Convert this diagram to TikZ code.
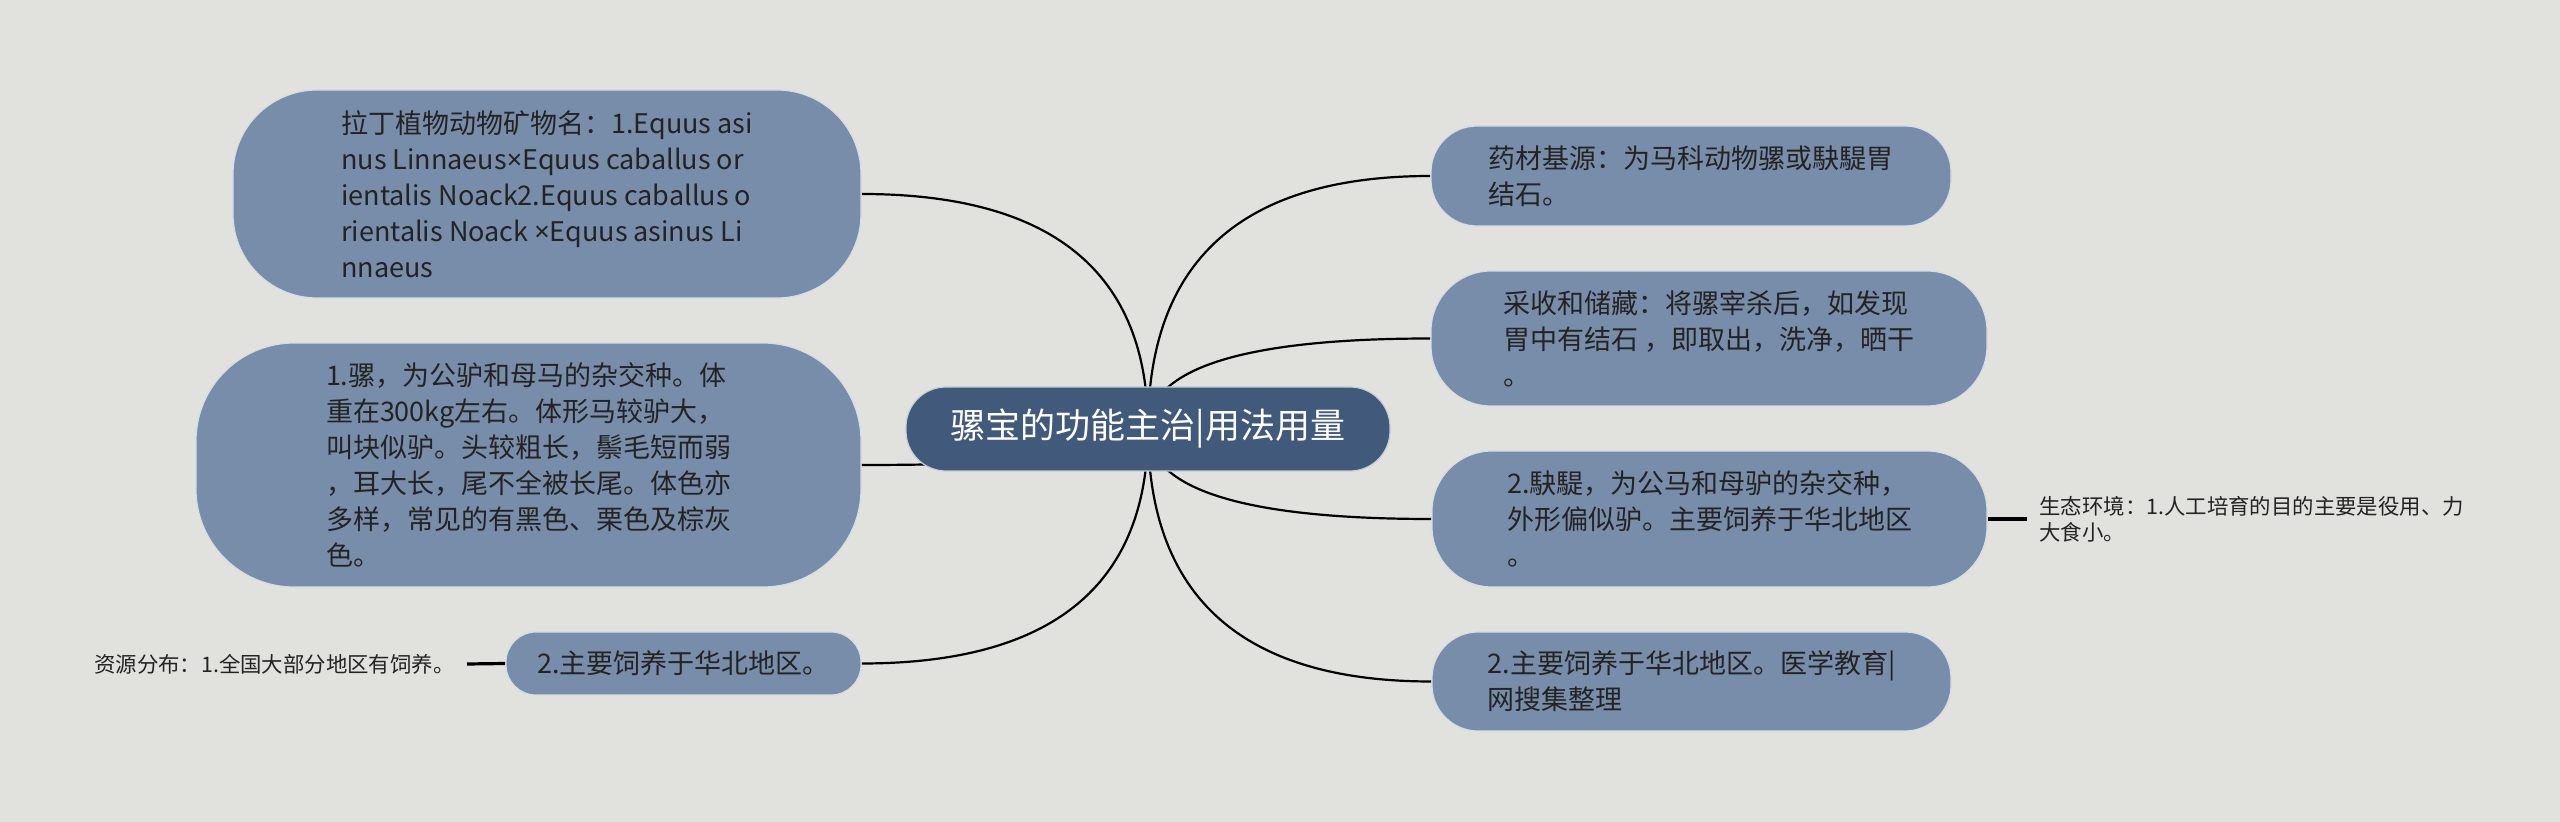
\documentclass[tikz,border=0pt]{standalone}
\usepackage{fontspec}
\setmainfont{Noto Sans CJK SC}
\newfontfamily\latinfont{Noto Sans}
\usepackage{tikz}
\usetikzlibrary{calc}
\pgfdeclarelayer{background}
\pgfsetlayers{background,main}

\definecolor{paper}{HTML}{E1E2DD}
\definecolor{branchblue}{HTML}{788DAA}
\definecolor{topicblue}{HTML}{415A7B}
\definecolor{inkgray}{HTML}{232323}

\newcommand{\crossmark}{{\latinfont ×}}

\tikzset{
  topicbox/.style={rectangle, rounded corners=20pt, fill=topicblue, draw=white!70!topicblue, line width=0.6pt, text=white, inner sep=0pt, font=\fontsize{17.5pt}{21pt}\selectfont},
  branchbox/.style={rectangle, fill=branchblue, draw=white!70!branchblue, line width=0.6pt, text=inkgray, inner sep=0pt, align=left, font=\fontsize{13.5pt}{18pt}\selectfont},
  leaftext/.style={text=inkgray, inner ysep=0pt, inner xsep=6pt, align=left, font=\fontsize{10.7pt}{13pt}\selectfont},
  link/.style={draw=black, line width=1.1pt, to path={.. controls ($(\tikztostart)!2/3!(\tikztostart |- \tikztotarget)$) and ($(\tikztotarget)!2/3!(\tikztostart |- \tikztotarget)$) .. (\tikztotarget)}},
  leaflink/.style={draw=black, line width=1.6pt}
}

\begin{document}
\begin{tikzpicture}[x=0.5pt, y=0.5pt]
\useasboundingbox (0,0) rectangle (2560,-822);

%%background Layer
\begin{pgfonlayer}{background}
\fill[paper] (0,0) rectangle (2560,-822);
\end{pgfonlayer}

%%Topic
\node[topicbox, minimum width=242pt, minimum height=42pt] (topic) at (1148,-429) {骡宝的功能主治|用法用量};

%%Left branches
\node[branchbox, rounded corners=42pt, minimum width=314pt, minimum height=104pt] (latin) at (547,-194) {拉丁植物动物矿物名：1.Equus asi\\
nus Linnaeus\crossmark Equus caballus or\\
ientalis Noack2.Equus caballus o\\
rientalis Noack \crossmark Equus asinus Li\\
nnaeus};
\node[branchbox, rounded corners=49pt, minimum width=332.5pt, minimum height=122pt] (mule) at (528.5,-465) {1.骡，为公驴和母马的杂交种。体\\
重在300kg左右。体形马较驴大，\\
叫块似驴。头较粗长，鬃毛短而弱\\
，耳大长，尾不全被长尾。体色亦\\
多样，常见的有黑色、栗色及棕灰\\
色。};
\node[branchbox, rounded corners=15pt, minimum width=177.5pt, minimum height=31.5pt] (north) at (683.5,-663.5) {2.主要饲养于华北地区。};

%%Right branches
\node[branchbox, rounded corners=23pt, minimum width=260pt, minimum height=50pt] (source) at (1691,-176) {药材基源：为马科动物骡或駃騠胃\\
结石。};
\node[branchbox, rounded corners=30pt, minimum width=278pt, minimum height=67.5pt] (harvest) at (1709,-338.5) {采收和储藏：将骡宰杀后，如发现\\
胃中有结石 ，即取出，洗净，晒干\\
。};
\node[branchbox, rounded corners=30pt, minimum width=277.5pt, minimum height=68pt] (hinny) at (1709.5,-519) {2.駃騠，为公马和母驴的杂交种，\\
外形偏似驴。主要饲养于华北地区\\
。};
\node[branchbox, rounded corners=23pt, minimum width=259.5pt, minimum height=49.5pt] (note) at (1691.5,-681.5) {2.主要饲养于华北地区。医学教育|\\
网搜集整理};

%%Leaves
\node[leaftext, anchor=east] (spread) at (467,-664) {资源分布：1.全国大部分地区有饲养。};
\node[leaftext, anchor=west] (habitat) at (2027,-519) {生态环境：1.人工培育的目的主要是役用、力\\
大食小。};

%%Connectors
\begin{pgfonlayer}{background}
\draw[link] (topic.center) to (latin.east);
\draw[link] (topic.center) to (mule.east);
\draw[link] (topic.center) to (north.east);
\draw[link] (topic.center) to (source.west);
\draw[link] (topic.center) to (harvest.west);
\draw[link] (topic.center) to (hinny.west);
\draw[link] (topic.center) to (note.west);
\draw[leaflink] (north.west) -- (spread.east);
\draw[leaflink] (hinny.east) -- (habitat.west);
\end{pgfonlayer}

\end{tikzpicture}
\end{document}
